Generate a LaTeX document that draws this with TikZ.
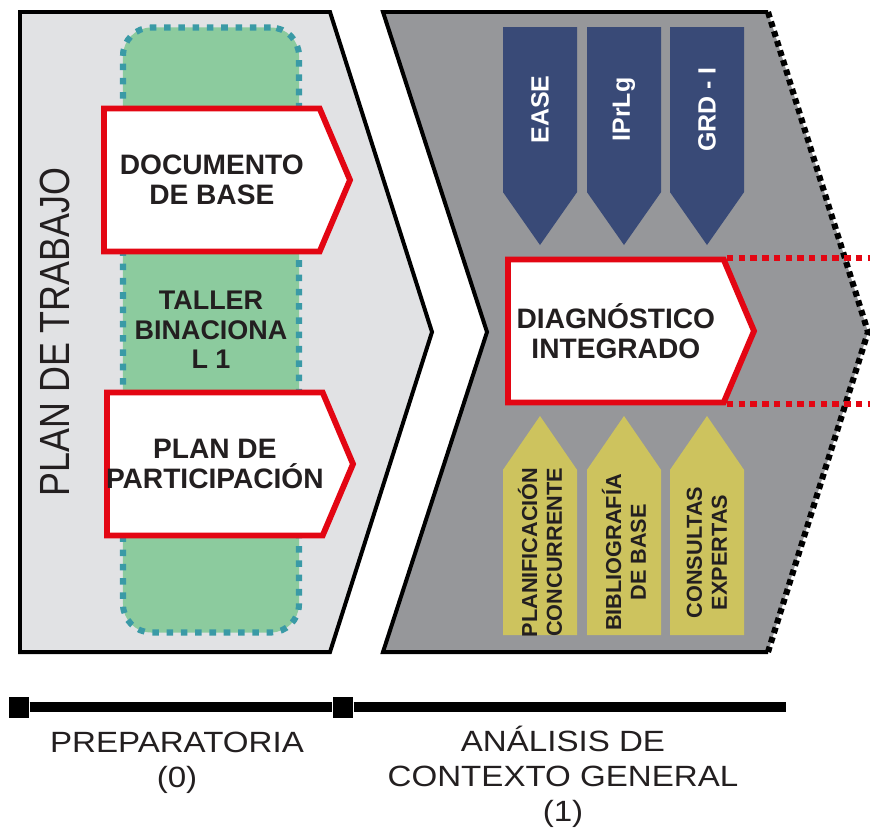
\documentclass[tikz,border=0pt]{standalone}
\usepackage{fontspec}
\setmainfont{Liberation Sans}
\newfontfamily\condfont[FakeStretch=0.85]{Liberation Sans}
\newfontfamily\widefont[FakeStretch=1.13]{Liberation Sans}
\usetikzlibrary{shapes.symbols}

\definecolor{lightpanel}{HTML}{E1E2E4}
\definecolor{darkpanel}{HTML}{96979A}
\definecolor{tallergreen}{HTML}{8CCB9E}
\definecolor{tealdots}{HTML}{3A9AA6}
\definecolor{boxred}{HTML}{E30613}
\definecolor{navyarrow}{HTML}{394A77}
\definecolor{olivearrow}{HTML}{CDC35E}
\definecolor{inkblack}{HTML}{231F20}

\begin{document}
\begin{tikzpicture}[
    x=0.03cm, y=-0.03cm,
    panel/.style={line width=3.4pt, line join=miter},
    taller/.style={rectangle, draw=tealdots, fill=tallergreen, line width=5.2pt,
        dash pattern=on 5.6pt off 6.6pt, rounded corners=0.85cm,
        minimum width=5.28cm, minimum height=18.15cm, align=center,
        font=\fontsize{23}{25}\selectfont\bfseries, text=inkblack},
    redbox/.style={signal, signal to=east, signal pointer angle=134, draw=boxred,
        line width=5pt, fill=white, minimum width=7.38cm, minimum height=4.29cm,
        outer sep=0pt, anchor=west, align=center, inner xsep=-8pt, inner ysep=2pt,
        font=\fontsize{24}{26}\selectfont\bfseries, text=inkblack},
    source/.style={signal, signal to=west, signal pointer angle=70, rotate=90,
        fill=navyarrow, minimum width=6.54cm, minimum height=2.22cm, outer sep=0pt,
        anchor=east, inner sep=1pt, text=white, font=\fontsize{21.3}{22}\selectfont\bfseries},
    input/.style={signal, signal to=east, signal pointer angle=69, rotate=90,
        fill=olivearrow, minimum width=6.57cm, minimum height=2.22cm, outer sep=0pt,
        anchor=west, inner xsep=-8pt, inner ysep=1pt, align=center, text=inkblack,
        font=\fontsize{18.5}{21.3}\selectfont\bfseries},
    phase/.style={anchor=north, align=center, inner sep=0pt, text=inkblack,
        font=\widefont\fontsize{25}{30}\selectfont},
    reddots/.style={draw=boxred, line width=5pt, dash pattern=on 5.5pt off 4.5pt},
    dottededge/.style={line width=5.2pt, dash pattern=on 5pt off 3.6pt},
    timeline/.style={line width=8.5pt},
    tick/.style={rectangle, fill=black, minimum width=0.62cm, minimum height=0.63cm, inner sep=0pt}
]
\useasboundingbox (0,0) rectangle (870,831);

% Phase 0 panel
\filldraw[panel, fill=lightpanel] (20,12) -- (330,12) -- (432,332) -- (330,652) -- (20,652) -- cycle;
\node[rotate=90, text=inkblack, font=\condfont\fontsize{36}{40}\selectfont] (plan) at (55,332) {PLAN DE TRABAJO};
\node[taller] (taller) at (211,330) {TALLER\\BINACIONA\\L 1};
\node[redbox] (documento) at (104,180) {DOCUMENTO\\DE BASE};
\node[redbox] (participacion) at (107,464) {PLAN DE\\PARTICIPACIÓN};

% Phase 1 panel
\fill[darkpanel] (383,12) -- (768,12) -- (868,332) -- (768,652) -- (383,652) -- (487,332) -- cycle;
\draw[panel] (768,12) -- (383,12) -- (487,332) -- (383,652) -- (768,652);
\draw[dottededge] (768,12) -- (868,332) -- (768,652);

\node[source] (ease) at (540,27) {EASE};
\node[source] (iprlg) at (624,27) {IPrLg};
\node[source] (grd) at (707,27) {GRD - I};

\node[redbox] (diagnostico) at (508,331) {DIAGNÓSTICO\\INTEGRADO};
\coordinate (diag top) at (727,258);
\coordinate (diag bottom) at (727,404);
\draw[reddots] (diag top) -- (870,258);
\draw[reddots] (diag bottom) -- (870,404);

\node[input] (planificacion) at (540,635) {PLANIFICACIÓN\\CONCURRENTE};
\node[input] (bibliografia) at (624,635) {BIBLIOGRAFÍA\\DE BASE};
\node[input] (consultas) at (707,635) {CONSULTAS\\EXPERTAS};

% Timeline
\node[tick] (t0) at (19,707) {};
\node[tick] (t1) at (343,707) {};
\coordinate (tend) at (786,707);
\draw[timeline] (t0) -- (t1) -- (tend);
\node[phase] (prep) at (177,732) {PREPARATORIA\\(0)};
\node[phase] (analisis) at (563,726) {ANÁLISIS DE\\CONTEXTO GENERAL\\(1)};
\end{tikzpicture}
\end{document}
